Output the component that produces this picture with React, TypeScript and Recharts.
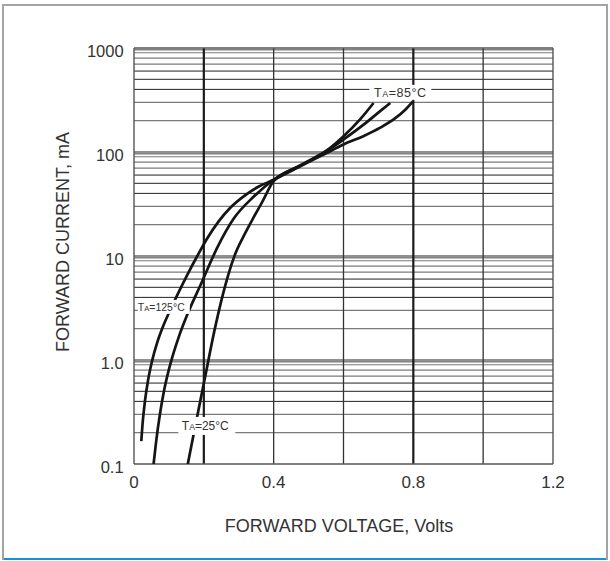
import React from "react";
import { LineChart, Line, XAxis, YAxis, ReferenceLine, ReferenceDot, Label } from "recharts";

const FONT = '"Liberation Sans", Arial, Helvetica, sans-serif';
const TEXT = "#333";

// axes
const xTicks = [0, 0.4, 0.8, 1.2];
const xTickLabels = ["0", "0.4", "0.8", "1.2"];
const xGridMajor = [0.2, 0.8];
const xGridMinor = [0.4, 0.6, 1.0];
const yTicks = [0.1, 1, 10, 100, 1000];
const yTickLabels = ["0.1", "1.0", "10", "100", "1000"];
const decadeStarts = [0.1, 1, 10, 100];
const darkMultipliers = [4, 5, 6];
const lightMultipliers = [2, 3, 7, 8, 9];
const doubledDecades = [1, 10, 100, 1000];

// series: forward voltage (V) / forward current (mA)
const v125 = [0.0209, 0.0255, 0.0318, 0.0404, 0.0518, 0.0662, 0.0839, 0.1054, 0.1283, 0.1541, 0.1813, 0.2099, 0.2414, 0.2758, 0.3159, 0.356, 0.4, 0.4762, 0.5621, 0.6014, 0.6566, 0.7053, 0.7483, 0.7769, 0.799];
const i125 = [0.166, 0.265, 0.413, 0.643, 0.98, 1.46, 2.13, 3.1, 4.52, 6.74, 10.0, 14.8, 21.3, 29.1, 37.9, 46.3, 54.1, 73.0, 101.8, 118.9, 141.9, 171.4, 211.5, 255.3, 307];

const v85 = [0.0561, 0.0639, 0.0739, 0.0853, 0.0982, 0.1125, 0.1283, 0.1512, 0.1947, 0.2377, 0.2852, 0.3425, 0.4, 0.4762, 0.5621, 0.6014, 0.6575, 0.6996, 0.734];
const i85 = [0.1, 0.17, 0.296, 0.493, 0.768, 1.145, 1.67, 2.66, 5.65, 11.9, 22.8, 37.1, 54.1, 74.6, 107.6, 132.8, 183.1, 238.9, 296];

const v25 = [0.1541, 0.167, 0.1813, 0.1956, 0.2099, 0.2242, 0.2385, 0.2543, 0.27, 0.2901, 0.313, 0.3388, 0.3674, 0.4, 0.4762, 0.5192, 0.5621, 0.6002, 0.6481, 0.6861];
const i25 = [0.1, 0.166, 0.29, 0.504, 0.877, 1.53, 2.54, 4.23, 6.59, 10.5, 15.3, 22.3, 33.2, 52.4, 73.8, 88.1, 110, 141.9, 206.9, 296];

const toPoints = (v: number[], i: number[]) => v.map((x, k) => ({ v: x, i: i[k] }));
const d125 = toPoints(v125, i125);
const d85 = toPoints(v85, i85);
const d25 = toPoints(v25, i25);

const darkY = decadeStarts.flatMap((d) => darkMultipliers.map((m) => d * m)).concat([1, 10, 100]);
const lightY = decadeStarts.flatMap((d) => lightMultipliers.map((m) => d * m));
const doubleY = doubledDecades.map((d) => d * 0.96);

const XTick = (p: any) => {
  const idx = xTicks.findIndex((t) => Math.abs(t - p.payload.value) < 1e-9);
  return (
    <text x={p.x} y={p.y + 23.7} textAnchor="middle" fontSize={17} fill={TEXT} fontFamily={FONT}>
      {idx >= 0 ? xTickLabels[idx] : ""}
    </text>
  );
};

const YTick = (p: any) => {
  const idx = yTicks.findIndex((t) => Math.abs(t - p.payload.value) / t < 1e-6);
  return (
    <text x={p.x - 10.4} y={p.y + 9} textAnchor="end" fontSize={16.5} fill={TEXT} fontFamily={FONT}>
      {idx >= 0 ? yTickLabels[idx] : ""}
    </text>
  );
};

const XTitle = (p: any) => {
  const vb = p.viewBox || { x: 134, y: 464, width: 419, height: 40 };
  return (
    <text x={vb.x + vb.width / 2 - 4.5} y={vb.y + 68.4} textAnchor="middle" fontSize={18} fill={TEXT} fontFamily={FONT}>
      FORWARD VOLTAGE, Volts
    </text>
  );
};

const YTitle = (p: any) => {
  const vb = p.viewBox || { x: 54, y: 48, width: 80, height: 416 };
  const cx = vb.x + 9;
  const cy = vb.y + vb.height / 2 - 14;
  return (
    <text
      x={cx}
      y={cy + 6.4}
      textAnchor="middle"
      fontSize={18}
      fill={TEXT}
      fontFamily={FONT}
      transform={`rotate(-90, ${cx}, ${cy})`}
    >
      FORWARD CURRENT, mA
    </text>
  );
};

const tempLabel = (temp: string, fs: number, boxW: number, boxH: number, boxDx: number, ls: number) => (p: any) => {
  const cx = p.cx;
  const cy = p.cy;
  return (
    <g>
      <rect x={cx + boxDx - boxW / 2} y={cy - boxH / 2} width={boxW} height={boxH} fill="#fff" />
      <text x={cx} y={cy + fs * 0.358} textAnchor="middle" fontSize={fs} fill={TEXT} fontFamily={FONT} letterSpacing={ls}>
        T<tspan fontSize={fs * 0.72}>A</tspan>={temp}°C
      </text>
    </g>
  );
};

export default function App() {
  return (
    <div style={{ position: "relative", width: 610, height: 561, background: "#fff", overflow: "hidden" }}>
      <style>{`body{margin:0}`}</style>
      <div style={{ position: "absolute", left: 2, top: 4, width: 2, height: 556, background: "#a3a3a3" }} />
      <div style={{ position: "absolute", left: 2, top: 4, width: 606, height: 2, background: "#a3a3a3" }} />
      <div style={{ position: "absolute", left: 606, top: 4, width: 2, height: 556, background: "#a3a3a3" }} />
      <div style={{ position: "absolute", left: 4, top: 558, width: 602, height: 2, background: "#1b8fd6" }} />
      <div style={{ position: "absolute", left: 0, top: 0 }}>
        <LineChart width={610} height={561} margin={{ top: 48, right: 57, bottom: 57, left: 54 }}>
          <XAxis
            dataKey="v"
            type="number"
            domain={[0, 1.2]}
            ticks={xTicks}
            tick={XTick}
            tickLine={false}
            axisLine={false}
            tickSize={0}
            tickMargin={0}
            height={40}
            allowDataOverflow
          >
            <Label content={XTitle} />
          </XAxis>
          <YAxis
            type="number"
            scale="log"
            domain={[0.1, 1000]}
            ticks={yTicks}
            tick={YTick}
            tickLine={false}
            axisLine={false}
            tickSize={0}
            tickMargin={0}
            width={80}
            allowDataOverflow
          >
            <Label content={YTitle} />
          </YAxis>

          {lightY.map((y) => (
            <ReferenceLine key={"l" + y} y={y} stroke="#7a7a7a" strokeWidth={1.2} />
          ))}
          {doubleY.map((y) => (
            <ReferenceLine key={"d" + y} y={y} stroke="#444" strokeWidth={1} />
          ))}
          {darkY.map((y) => (
            <ReferenceLine key={"k" + y} y={y} stroke="#222" strokeWidth={1} />
          ))}
          {xGridMinor.map((x) => (
            <ReferenceLine key={"xm" + x} x={x} stroke="#333" strokeWidth={1.3} />
          ))}
          {xGridMajor.map((x) => (
            <ReferenceLine key={"xM" + x} x={x} stroke="#1a1a1a" strokeWidth={2.2} />
          ))}
          <ReferenceLine x={0} stroke="#555" strokeWidth={1.4} />
          <ReferenceLine x={1.2} stroke="#555" strokeWidth={1.4} />
          <ReferenceLine y={0.1} stroke="#555" strokeWidth={1.4} />
          <ReferenceLine y={1000} stroke="#555" strokeWidth={1.4} />

          <Line data={d125} dataKey="i" type="monotone" stroke="#151515" strokeWidth={2.7} dot={false} isAnimationActive={false} />
          <Line data={d85} dataKey="i" type="monotone" stroke="#151515" strokeWidth={2.7} dot={false} isAnimationActive={false} />
          <Line data={d25} dataKey="i" type="monotone" stroke="#151515" strokeWidth={2.7} dot={false} isAnimationActive={false} />

          <ReferenceDot x={0.7626} y={374.6} r={0} shape={tempLabel("85", 12.5, 62, 15, 0, 0.5)} />
          <ReferenceDot x={0.2042} y={0.2323} r={0} shape={tempLabel("25", 12, 57, 18, 1.5, 0)} />
          <ReferenceDot x={0.0782} y={3.24} r={0} shape={tempLabel("125", 10.5, 52, 14, 2.5, 0)} />
        </LineChart>
      </div>
    </div>
  );
}
